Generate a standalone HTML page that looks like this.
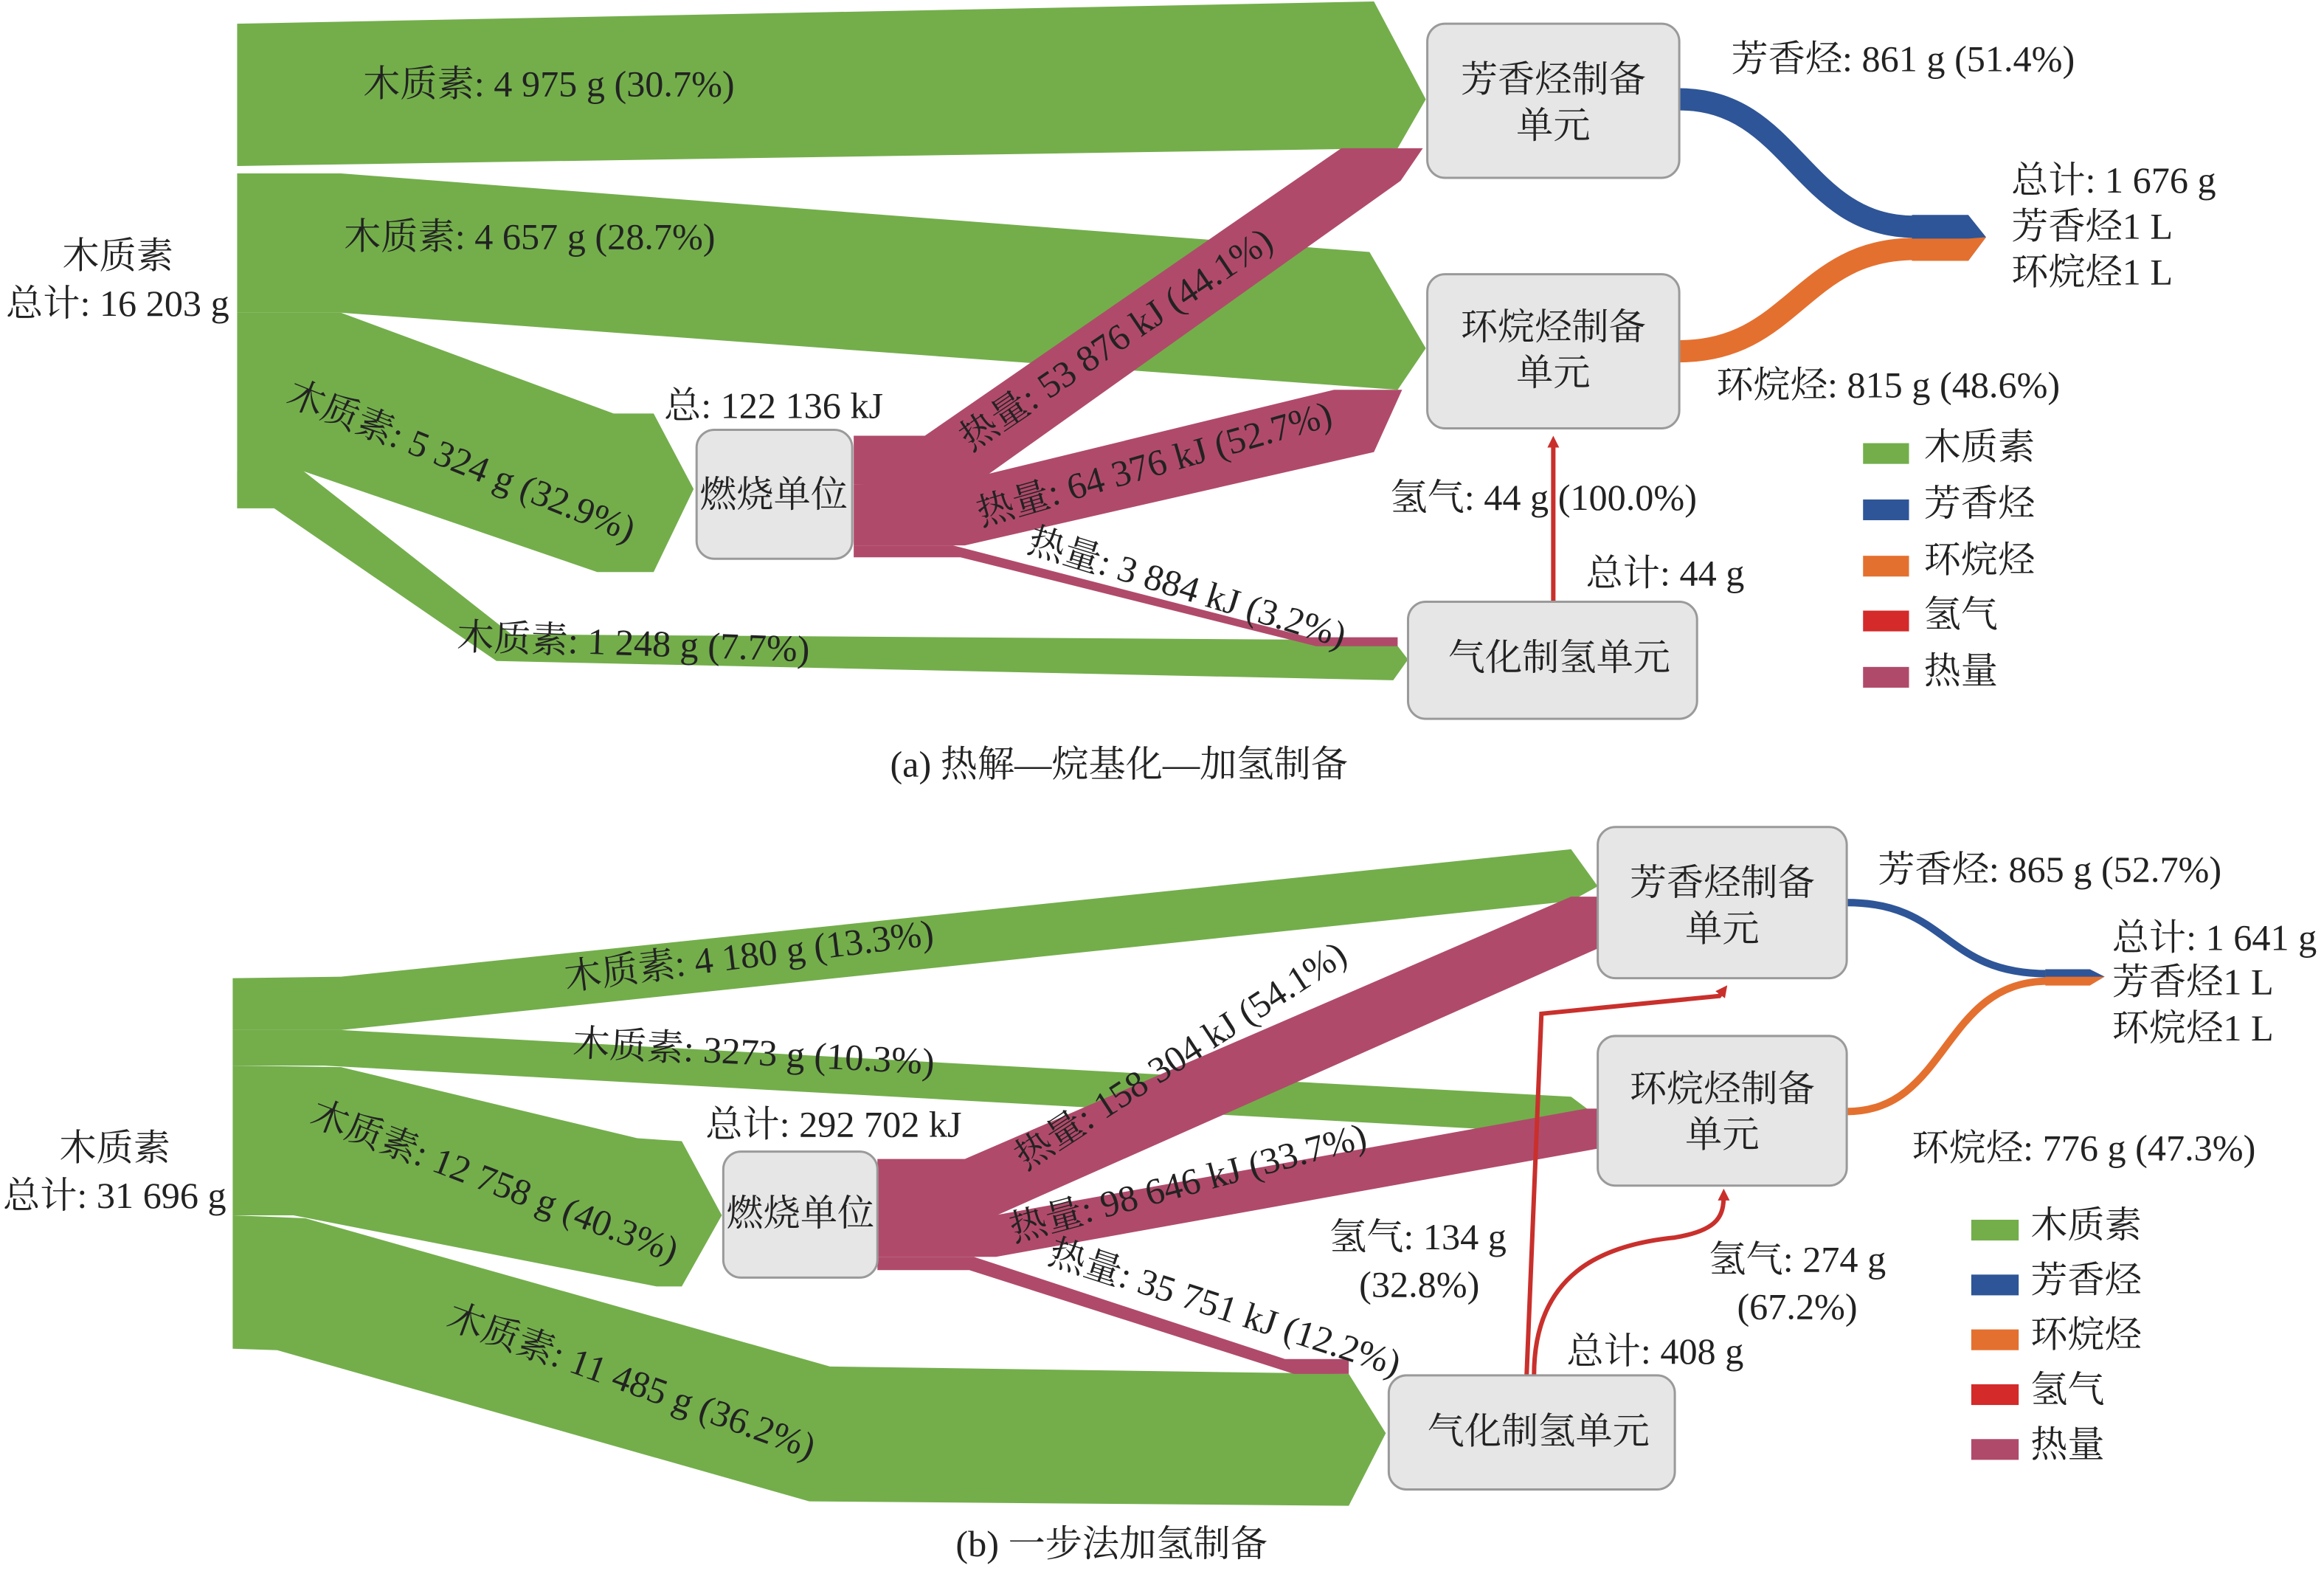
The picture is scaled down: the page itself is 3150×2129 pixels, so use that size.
<!DOCTYPE html>
<html><head><meta charset="utf-8">
<style>
html,body{margin:0;padding:0;background:#fff;}
svg{display:block;}
text{font-family:"Liberation Serif","Noto Serif CJK SC",serif;font-size:25px;fill:#222;}
</style></head>
<body>
<svg width="3150" height="2129" viewBox="0 0 1568 1060" preserveAspectRatio="none" xmlns="http://www.w3.org/2000/svg">
<defs>
<marker id="ah" markerWidth="8" markerHeight="8" refX="4" refY="4" orient="auto" markerUnits="userSpaceOnUse" viewBox="0 0 8 8"><path d="M0,0 L8,4 L0,8 z" fill="#c9302c"/></marker>
</defs>
<rect width="1568" height="1060" fill="#fff"/>
<!-- ===== Panel (a) ===== -->
<g fill="#73ae4b">
<polygon points="160,16 927,1 962,67 943,100 160,112"/>
<polygon points="160,117 230,117 924,170 962,235 943,263 230,211 160,211"/>
<polygon points="160,211 230,211 414,279 441,279 468,330 441,386 403,386 205,318 160,343"/>
<polygon points="160,318 205,318 345,428 940,432 950,445 940,459 335,446 185,343 160,343"/>
</g>
<g fill="#b04a6b">
<polygon points="576,294 624,294 905,100 960,100 945,122 657,327 576,327"/>
<polygon points="576,327 641,326 900,263 946,263 927,305 651,368 576,368"/>
<polygon points="576,368 643,368 883,430 943,430 943,436 888,436 648,376 576,376"/>
</g>
<path d="M1133,67 C1210,67 1215,153 1292,153" stroke="#2e5597" stroke-width="15" fill="none"/>
<path d="M1133,237 C1210,237 1215,168 1292,168" stroke="#e4702f" stroke-width="15" fill="none"/>
<polygon points="1290,145 1328,145 1340,160 1328,176 1290,176" fill="#2e5597"/>
<polygon points="1290,161 1328,161 1340,160 1328,176 1290,176" fill="#e4702f"/>
<line x1="1048" y1="406" x2="1048" y2="298" stroke="#c9302c" stroke-width="3" marker-end="url(#ah)"/>
<g fill="#e6e6e6" stroke="#9a9a9a" stroke-width="1.5">
<rect x="963" y="16" width="170" height="104" rx="12"/>
<rect x="963" y="185" width="170" height="104" rx="12"/>
<rect x="470" y="290" width="105" height="87" rx="12"/>
<rect x="950" y="406" width="195" height="79" rx="12"/>
</g>
<text x="1048" y="62" text-anchor="middle">芳香烃制备</text>
<text x="1048" y="93" text-anchor="middle">单元</text>
<text x="1048" y="229" text-anchor="middle">环烷烃制备</text>
<text x="1048" y="260" text-anchor="middle">单元</text>
<text x="522" y="342" text-anchor="middle">燃烧单位</text>
<text x="1052" y="452" text-anchor="middle">气化制氢单元</text>
<text x="245" y="65">木质素: 4 975 g (30.7%)</text>
<text x="232" y="168">木质素: 4 657 g (28.7%)</text>
<text x="192" y="272" transform="rotate(22 192 272)">木质素: 5 324 g (32.9%)</text>
<text x="308" y="438" transform="rotate(2 308 438)">木质素: 1 248 g (7.7%)</text>
<text x="42" y="181">木质素</text>
<text x="4" y="213">总计: 16 203 g</text>
<text x="448" y="282">总: 122 136 kJ</text>
<text x="655" y="305" transform="rotate(-34 655 305)">热量: 53 876 kJ (44.1%)</text>
<text x="662" y="355" transform="rotate(-16 662 355)">热量: 64 376 kJ (52.7%)</text>
<text x="692" y="372" transform="rotate(17 692 372)">热量: 3 884 kJ (3.2%)</text>
<text x="1168" y="48">芳香烃: 861 g (51.4%)</text>
<text x="1357" y="130">总计: 1 676 g</text>
<text x="1357" y="161">芳香烃1 L</text>
<text x="1357" y="192">环烷烃1 L</text>
<text x="1158" y="268">环烷烃: 815 g (48.6%)</text>
<text x="938" y="344">氢气: 44 g (100.0%)</text>
<text x="1070" y="395">总计: 44 g</text>
<rect x="1257" y="299" width="31" height="14" fill="#73ae4b"/><text x="1298" y="310">木质素</text>
<rect x="1257" y="337" width="31" height="14" fill="#2e5597"/><text x="1298" y="348">芳香烃</text>
<rect x="1257" y="375" width="31" height="14" fill="#e4702f"/><text x="1298" y="386">环烷烃</text>
<rect x="1257" y="412" width="31" height="14" fill="#d42a2a"/><text x="1298" y="423">氢气</text>
<rect x="1257" y="450" width="31" height="14" fill="#b04a6b"/><text x="1298" y="461">热量</text>
<text x="755" y="524" text-anchor="middle">(a) 热解—烷基化—加氢制备</text>

<!-- ===== Panel (b) ===== -->
<g fill="#73ae4b">
<polygon points="157,660 230,659 1060,573 1078,598 1060,608 230,695 157,695"/>
<polygon points="157,695 230,695 1060,740 1076,752 1060,765 219,719 157,719"/>
<polygon points="157,719 230,720 430,768 460,770 487,820 460,868 443,868 198,820 157,820"/>
<polygon points="157,820 206,822 560,922 910,927 935,967 910,1016 546,1013 187,911 157,910"/>
</g>
<g fill="#b04a6b">
<polygon points="592,782 651,782 1060,605 1078,605 1078,640 668,822 592,822"/>
<polygon points="592,822 660,822 1070,748 1078,748 1078,775 672,848 592,848"/>
<polygon points="592,848 657,848 867,917 910,917 910,927 873,927 654,857 592,857"/>
</g>
<path d="M1246,609 C1315,609 1310,657 1382,657" stroke="#2e5597" stroke-width="5" fill="none"/>
<path d="M1246,750 C1315,750 1310,662 1382,662" stroke="#e4702f" stroke-width="5" fill="none"/>
<polygon points="1380,654 1410,654 1420,659 1410,665 1380,665" fill="#e4702f"/>
<polygon points="1380,654 1410,654 1420,659 1380,659" fill="#2e5597"/>
<path d="M1030,928 L1040,684 L1160,672 L1163,668" stroke="#c9302c" stroke-width="3" fill="none" marker-end="url(#ah)"/>
<path d="M1035,928 C1035,860 1080,840 1130,835 C1160,830 1163,820 1163,806" stroke="#c9302c" stroke-width="3" fill="none" marker-end="url(#ah)"/>
<g fill="#e6e6e6" stroke="#9a9a9a" stroke-width="1.5">
<rect x="1078" y="558" width="168" height="102" rx="12"/>
<rect x="1078" y="699" width="168" height="101" rx="12"/>
<rect x="488" y="777" width="104" height="85" rx="12"/>
<rect x="937" y="928" width="193" height="77" rx="12"/>
</g>
<text x="1162" y="604" text-anchor="middle">芳香烃制备</text>
<text x="1162" y="635" text-anchor="middle">单元</text>
<text x="1162" y="743" text-anchor="middle">环烷烃制备</text>
<text x="1162" y="774" text-anchor="middle">单元</text>
<text x="540" y="827" text-anchor="middle">燃烧单位</text>
<text x="1038" y="974" text-anchor="middle">气化制氢单元</text>
<text x="382" y="668" transform="rotate(-7 382 668)">木质素: 4 180 g (13.3%)</text>
<text x="386" y="712" transform="rotate(3 386 712)">木质素: 3273 g (10.3%)</text>
<text x="208" y="758" transform="rotate(21 208 758)">木质素: 12 758 g (40.3%)</text>
<text x="300" y="895" transform="rotate(20 300 895)">木质素: 11 485 g (36.2%)</text>
<text x="40" y="783">木质素</text>
<text x="2" y="815">总计: 31 696 g</text>
<text x="476" y="767">总计: 292 702 kJ</text>
<text x="692" y="790" transform="rotate(-33 692 790)">热量: 158 304 kJ (54.1%)</text>
<text x="684" y="838" transform="rotate(-15 684 838)">热量: 98 646 kJ (33.7%)</text>
<text x="706" y="852" transform="rotate(18 706 852)">热量: 35 751 kJ (12.2%)</text>
<text x="1267" y="595">芳香烃: 865 g (52.7%)</text>
<text x="1425" y="641">总计: 1 641 g</text>
<text x="1425" y="671">芳香烃1 L</text>
<text x="1425" y="702">环烷烃1 L</text>
<text x="1290" y="783">环烷烃: 776 g (47.3%)</text>
<text x="897" y="843">氢气: 134 g</text>
<text x="917" y="875">(32.8%)</text>
<text x="1153" y="858">氢气: 274 g</text>
<text x="1172" y="890">(67.2%)</text>
<text x="1057" y="920">总计: 408 g</text>
<rect x="1330" y="823" width="32" height="14" fill="#73ae4b"/><text x="1370" y="835">木质素</text>
<rect x="1330" y="860" width="32" height="14" fill="#2e5597"/><text x="1370" y="872">芳香烃</text>
<rect x="1330" y="897" width="32" height="14" fill="#e4702f"/><text x="1370" y="909">环烷烃</text>
<rect x="1330" y="934" width="32" height="14" fill="#d42a2a"/><text x="1370" y="946">氢气</text>
<rect x="1330" y="971" width="32" height="14" fill="#b04a6b"/><text x="1370" y="983">热量</text>
<text x="750" y="1050" text-anchor="middle">(b) 一步法加氢制备</text>
</svg>
</body></html>
